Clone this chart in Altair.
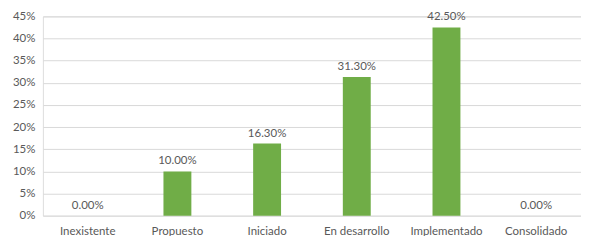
import altair as alt
import pandas as pd

categories = ["Inexistente", "Propuesto", "Iniciado", "En desarrollo", "Implementado", "Consolidado"]
values = [0.0, 0.10, 0.163, 0.313, 0.425, 0.0]
y_ticks = [0, 0.05, 0.10, 0.15, 0.20, 0.25, 0.30, 0.35, 0.40, 0.45]

df = pd.DataFrame({"cat": categories, "val": values})

FONT = "Lato"
TXT = "#595959"

x = alt.X("cat:N", sort=categories, title=None,
          scale=alt.Scale(paddingInner=0.69, paddingOuter=0.345),
          axis=alt.Axis(labelAngle=0, labelFont=FONT, labelFontSize=11.5, labelColor=TXT,
                        domain=False, ticks=False, labelPadding=10))
y = alt.Y("val:Q", title=None,
          scale=alt.Scale(domain=[0, 0.45], nice=False),
          axis=alt.Axis(values=y_ticks, format=".0%", labelFont=FONT, labelFontSize=11.5,
                        labelColor=TXT, domain=False, ticks=False, labelPadding=8,
                        gridColor="#D9D9D9", gridWidth=1))

base = alt.Chart(df).encode(x=x, y=y)
bars = base.mark_bar(color="#70AD47", size=28)
labels = base.mark_text(baseline="bottom", dy=-5, font=FONT, fontSize=11.5, color=TXT).encode(
    text=alt.Text("val:Q", format=".2%"))

chart = (bars + labels).properties(
    width=540, height=200,
    autosize=alt.AutoSizeParams(type="none"),
    padding={"left": 35, "top": 8, "right": 0, "bottom": 20},
).configure_view(stroke=None).configure(background="white")

chart.save("out.html", embed_options={"renderer": "svg", "actions": False})
